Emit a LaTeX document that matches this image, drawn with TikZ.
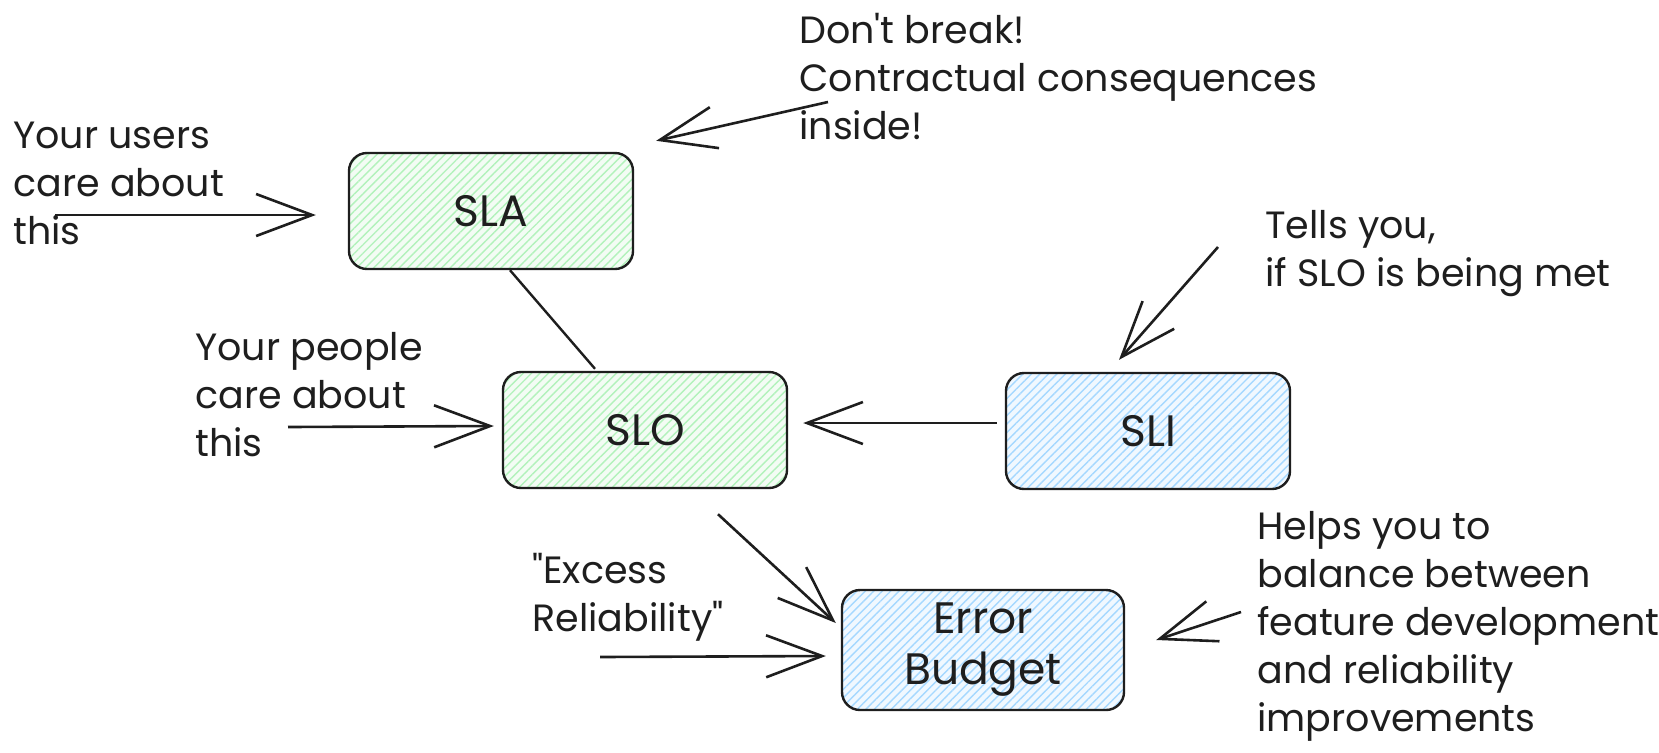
\documentclass[tikz,border=0pt]{standalone}
\usepackage{fontspec}
\setmainfont{Poppins}
\usetikzlibrary{arrows.meta,calc,patterns.meta}

\definecolor{ink}{HTML}{1E1E1E}
\definecolor{greenhatch}{HTML}{B2F2BB}
\definecolor{greenbg}{HTML}{F3FCF4}
\definecolor{bluehatch}{HTML}{A5D8FF}
\definecolor{bluebg}{HTML}{F0F8FF}

\tikzset{
        box/.style={draw=ink, line width=1.2pt, rounded corners=9pt, minimum width=142pt,
                minimum height=58pt, align=center, text=ink, font=\fontsize{22}{25.5}\selectfont},
        greenbox/.style={preaction={fill=greenbg}, preaction={pattern={Lines[angle=45,distance=3pt,line width=0.7pt]}, pattern color=greenhatch}, box},
        bluebox/.style={preaction={fill=bluebg}, preaction={pattern={Lines[angle=45,distance=3pt,line width=0.7pt]}, pattern color=bluehatch}, box},
        note/.style={align=left, anchor=base west, inner sep=0pt, text=ink, font=\fontsize{19}{24}\selectfont},
        sketch/.style={draw=ink, line width=1.3pt, -{Straight Barb[length=28pt,width=21pt]}},
}

\begin{document}
\begin{tikzpicture}[x=0.5pt,y=-0.5pt]
        \useasboundingbox (0,0) rectangle (1659,752);

        \node[greenbox] (sla) at (491,211) {SLA};
        \node[greenbox] (slo) at (645,430) {SLO};
        \node[bluebox] (sli) at (1148,431) {SLI};
        \node[bluebox, minimum width=141pt, minimum height=60pt] (budget) at (983,650) {Error\\Budget};

        % anchored on the baseline of the last line
        \node[note] (users) at (13,244) {Your users\\care about\\this};
        \node[note] (dontbreak) at (799,139) {Don\textquotesingle t break!\\Contractual consequences\\inside!};
        \node[note] (tells) at (1265,286) {Tells you,\\if SLO is being met};
        \node[note] (people) at (195,456) {Your people\\care about\\this};
        \node[note] (excess) at (532,631) {\textquotedbl Excess\\Reliability\textquotedbl};
        \node[note] (helps) at (1257,731) {Helps you to\\balance between\\feature development\\and reliability\\improvements};

        \coordinate (usersTail) at (55,215);
        \coordinate (dontTail) at (828,102);
        \coordinate (peopleTail) at (288,427);
        \coordinate (tellsTail) at (1218,247);
        \coordinate (excessTail) at (600,657);
        \coordinate (helpsTail) at (1241,612);

        \draw[sketch] (usersTail) -- ($(sla.west)+(-32,4)$);
        \draw[sketch] (dontTail) -- ($(sla.north east)+(22,-11)$);
        \draw[draw=ink, line width=1.2pt] ($(sla.south)+(19,0)$) -- ($(slo.north)+(-50,-2)$);
        \draw[sketch] (peopleTail) -- ($(slo.west)+(-8,-4)$);
        \draw[sketch] ($(sli.west)+(-8,-8)$) -- ($(slo.east)+(15,-7)$);
        \draw[sketch] (tellsTail) -- ($(sli.north)+(-29,-12)$);
        \draw[sketch] ($(slo.south)+(73,25)$) -- ($(budget.west)+(-5,-27)$);
        \draw[sketch] (excessTail) -- ($(budget.west)+(-15,6)$);
        \draw[sketch] (helpsTail) -- ($(budget.east)+(31,-10)$);
\end{tikzpicture}
\end{document}
